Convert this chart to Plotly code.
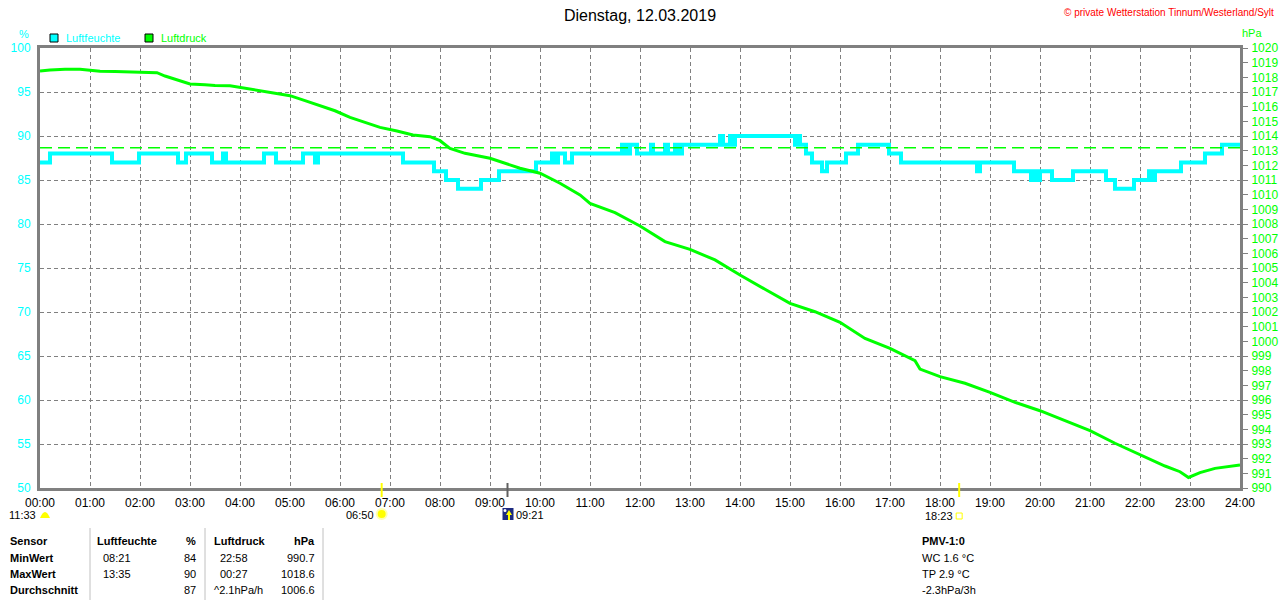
import plotly.graph_objects as go

# Luftfeuchte (%), step changes: hour of day -> value
hum_time = [0.00, 0.20, 1.44, 1.98, 2.76, 2.92, 3.44, 3.66, 3.72, 4.48, 4.72, 5.26, 5.50, 5.56,
            7.26, 7.88, 8.12, 8.36, 8.82, 9.18, 9.92, 10.24, 10.32, 10.36, 10.50, 10.64,
            11.64, 11.72, 11.80, 11.94, 12.22, 12.26, 12.50, 12.56, 12.70, 12.76, 12.84,
            13.60, 13.66, 13.80, 13.86, 13.90, 15.10, 15.16, 15.20, 15.32, 15.44, 15.64,
            15.74, 16.12, 16.36, 16.98, 17.22, 18.74, 18.80, 19.48, 19.82, 19.88, 19.94,
            20.00, 20.24, 20.66, 21.32, 21.50, 21.88, 22.18, 22.26, 22.30, 22.82, 23.30,
            23.64, 24.00]
hum_val = [87, 88, 87, 88, 87, 88, 87, 88, 87, 88, 87, 88, 87, 88,
           87, 86, 85, 84, 85, 86, 87, 88, 87, 88, 87, 88,
           89, 88, 89, 88, 89, 88, 89, 88, 89, 88, 89,
           90, 89, 90, 89, 90, 89, 90, 89, 88, 87, 86,
           87, 88, 89, 88, 87, 86, 87, 86, 85, 86, 85,
           86, 85, 86, 85, 84, 85, 86, 85, 86, 87, 88,
           89, 89]

# Luftdruck (hPa)
pres_time = [0.00, 0.20, 0.50, 0.80, 1.00, 1.20, 1.50, 2.00, 2.34, 2.50, 2.80, 3.00, 3.30,
             3.50, 3.80, 4.00, 4.30, 4.60, 5.00, 5.30, 5.60, 5.90, 6.20, 6.50, 6.80, 7.14,
             7.46, 7.80, 8.00, 8.20, 8.50, 9.00, 9.30, 9.60, 10.00, 10.40, 10.80, 11.00,
             11.50, 12.00, 12.50, 13.00, 13.50, 14.00, 14.50, 15.00, 15.50, 16.00, 16.50,
             17.00, 17.50, 17.60, 18.00, 18.50, 19.00, 19.50, 20.00, 20.50, 21.00, 21.50,
             22.00, 22.50, 22.80, 22.97, 23.20, 23.50, 24.00]
pres_val = [1018.43, 1018.50, 1018.55, 1018.55, 1018.48, 1018.41, 1018.39, 1018.34, 1018.32,
            1018.09, 1017.77, 1017.55, 1017.50, 1017.45, 1017.43, 1017.32, 1017.14, 1017.02,
            1016.75, 1016.41, 1016.05, 1015.72, 1015.27, 1014.93, 1014.59, 1014.34, 1014.07,
            1013.95, 1013.68, 1013.16, 1012.82, 1012.48, 1012.14, 1011.80, 1011.46, 1010.78,
            1009.98, 1009.41, 1008.77, 1007.86, 1006.80, 1006.27, 1005.55, 1004.52, 1003.55,
            1002.59, 1002.02, 1001.30, 1000.20, 999.52, 998.68, 998.11, 997.59, 997.14,
            996.52, 995.84, 995.27, 994.57, 993.91, 993.05, 992.25, 991.50, 991.11, 990.72,
            991.05, 991.34, 991.57]
pres_ref = 1013.2

hour_ticks = list(range(25))
hour_labels = ["%02d:00" % h for h in hour_ticks]

# sun / moon events (hour, label)
sunrise = (6 + 50 / 60, "06:50")
sunset = (18 + 23 / 60, "18:23")
moonrise = (9 + 21 / 60, "09:21")
moonset_label = "11:33"

table_rows = [
    ["Sensor", "Luftfeuchte", "%", "Luftdruck", "hPa"],
    ["MinWert", "08:21", "84", "22:58", "990.7"],
    ["MaxWert", "13:35", "90", "00:27", "1018.6"],
    ["Durchschnitt", "", "87", "^2.1hPa/h", "1006.6"],
]
pmv_lines = ["PMV-1:0", "WC 1.6 °C", "TP 2.9 °C", "-2.3hPa/3h"]

FONT = "Liberation Sans, Arial, sans-serif"
CYAN = "#00FFFF"
GREEN = "#00FF00"
YELLOW = "#FFFF00"
GRAY = "#808080"
HPX = 1 / 50  # one pixel in hours


def px(x):
    return (x - 40) / 1200


def py(y):
    return (488 - y) / 440


fig = go.Figure()

fig.add_trace(go.Scatter(x=hum_time, y=hum_val, mode="lines", line_shape="hv",
                         line=dict(color=CYAN, width=4), yaxis="y", showlegend=False))
fig.add_trace(go.Scatter(x=[0, 24], y=[pres_ref, pres_ref], mode="lines",
                         line=dict(color=GREEN, width=1.5, dash="12px,6px"),
                         yaxis="y2", showlegend=False))
fig.add_trace(go.Scatter(x=pres_time, y=pres_val, mode="lines",
                         line=dict(color=GREEN, width=3), yaxis="y2", showlegend=False))

shapes = []
for t, c in [(sunrise[0], YELLOW), (sunset[0], YELLOW), (moonrise[0], "#606060")]:
    shapes.append(dict(type="line", xref="x", yref="paper", x0=t, x1=t,
                       y0=py(497), y1=py(483), line=dict(color=c, width=2)))

# event icons below the time axis
t = sunrise[0]
shapes.append(dict(type="circle", xref="x", yref="paper", x0=t - 6 * HPX, x1=t + 6 * HPX,
                   y0=py(520), y1=py(508), fillcolor="#FFFFB0", line=dict(width=0)))
shapes.append(dict(type="circle", xref="x", yref="paper", x0=t - 4 * HPX, x1=t + 4 * HPX,
                   y0=py(518), y1=py(510), fillcolor=YELLOW, line=dict(width=0)))
t = sunset[0]
shapes.append(dict(type="rect", xref="x", yref="paper", x0=t - 3 * HPX, x1=t + 3 * HPX,
                   y0=py(519), y1=py(513), line=dict(color=YELLOW, width=1)))
t = moonrise[0]
shapes.append(dict(type="rect", xref="x", yref="paper", x0=t - 5 * HPX, x1=t + 6 * HPX,
                   y0=py(520), y1=py(508), fillcolor="#1C2A80", line=dict(width=0)))
shapes.append(dict(type="circle", xref="x", yref="paper", x0=t - 4 * HPX, x1=t - 1 * HPX,
                   y0=py(512), y1=py(509), fillcolor="white", line=dict(width=0)))
shapes.append(dict(type="line", xref="x", yref="paper", x0=t + 1.5 * HPX, x1=t + 1.5 * HPX,
                   y0=py(520), y1=py(512), line=dict(color=YELLOW, width=2)))
shapes.append(dict(type="path", xref="paper", yref="paper",
                   path="M %f,%f L %f,%f L %f,%f Z" % (
                       px(40 + (t + 1.5 * HPX) * 50 - 3), py(515),
                       px(40 + (t + 1.5 * HPX) * 50 + 3), py(515),
                       px(40 + (t + 1.5 * HPX) * 50), py(510)),
                   fillcolor=YELLOW, line=dict(width=0)))
# moonset dome at the left edge
shapes.append(dict(type="path", xref="paper", yref="paper",
                   path="M %f,%f Q %f,%f %f,%f Z" % (px(40), py(518), px(45), py(506),
                                                      px(50), py(518)),
                   fillcolor=YELLOW, line=dict(width=0)))

# legend boxes
shapes.append(dict(type="rect", xref="paper", yref="paper", x0=px(50), x1=px(58),
                   y0=py(42), y1=py(34), fillcolor=CYAN, line=dict(color="black", width=1)))
shapes.append(dict(type="rect", xref="paper", yref="paper", x0=px(145), x1=px(153),
                   y0=py(42), y1=py(34), fillcolor=GREEN, line=dict(color="black", width=1)))
# table separators
for sx in [90, 205, 323]:
    shapes.append(dict(type="line", xref="paper", yref="paper", x0=px(sx), x1=px(sx),
                       y0=py(600), y1=py(528), line=dict(color="#C0C0C0", width=1)))

ann = []


def text(x, y, s, color="black", size=12, anchor="left", bold=False):
    if bold:
        s = "<b>" + s + "</b>"
    ann.append(dict(xref="paper", yref="paper", x=px(x), y=py(y), text=s, showarrow=False,
                    xanchor=anchor, yanchor="middle",
                    font=dict(family=FONT, size=size, color=color)))


text(64, 38, "Luftfeuchte", CYAN, 11)
text(159, 38, "Luftdruck", GREEN, 11)
text(31, 34, "%", CYAN, 11, "right")
text(1240, 33, "hPa", GREEN, 11)
text(1276, 12, "© private Wetterstation Tinnum/Westerland/Sylt", "#FF0000", 10, "right")

text(38, 515, moonset_label, size=11, anchor="right")
text(376, 515, sunrise[1], size=11, anchor="right")
text(514, 515, moonrise[1], size=11)
text(955, 516, sunset[1], size=11, anchor="right")

col_x = [8, 101, 198, 218, 317]
col_anchor = ["left", "left", "right", "left", "right"]
row_y = [541, 558, 574, 590]
for r, row in enumerate(table_rows):
    for c, val in enumerate(row):
        if val == "":
            continue
        x = col_x[c]
        if r == 0 and c in (1, 3):
            x = 95 if c == 1 else 212
        if r == 3 and c == 3:
            x = 212
        text(x, row_y[r], val, size=11, anchor=col_anchor[c], bold=(r == 0 or c == 0))
for i, s in enumerate(pmv_lines):
    text(920, row_y[i], s, size=11, bold=(i == 0))

fig.update_layout(
    width=1280, height=600,
    margin=dict(l=40, r=40, t=48, b=112, autoexpand=False),
    paper_bgcolor="white", plot_bgcolor="white",
    title=dict(text="Dienstag, 12.03.2019", x=0.5, xanchor="center", y=1 - 15 / 600,
               yanchor="middle", font=dict(family=FONT, size=16, color="black")),
    xaxis=dict(range=[0, 24], tickvals=hour_ticks, ticktext=hour_labels,
               showgrid=True, gridcolor=GRAY, griddash="4px,3px", gridwidth=1,
               showline=True, linecolor=GRAY, linewidth=3, mirror=True,
               ticks="", ticklabelstandoff=2, zeroline=False,
               tickfont=dict(family=FONT, size=12, color="black")),
    yaxis=dict(range=[50, 100], dtick=5, showgrid=True, gridcolor=GRAY,
               griddash="4px,3px", gridwidth=1, showline=True, linecolor=GRAY,
               linewidth=3, mirror=True, ticks="", ticklabelstandoff=4, zeroline=False,
               tickfont=dict(family=FONT, size=12, color=CYAN)),
    yaxis2=dict(range=[990, 1020], dtick=1, overlaying="y", side="right",
                showgrid=False, showline=True, linecolor=GRAY, linewidth=3,
                ticks="outside", ticklen=5, tickcolor=GRAY, tickwidth=1, zeroline=False,
                ticklabelstandoff=1,
                tickfont=dict(family=FONT, size=12, color=GREEN)),
    shapes=shapes,
    annotations=ann,
    showlegend=False,
)

fig.write_html("out.html", config={"displayModeBar": False},
               post_script="document.body.style.margin='0';")
